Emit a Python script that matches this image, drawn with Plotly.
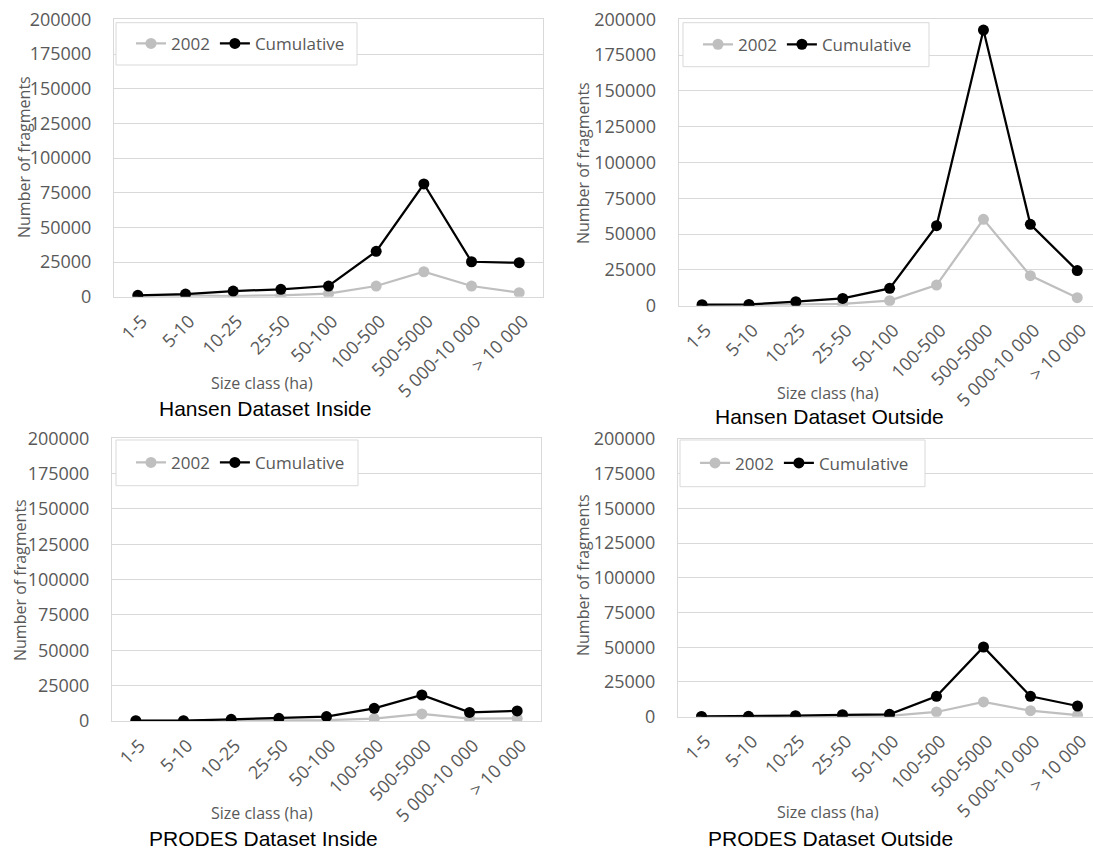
import plotly.graph_objects as go

W, H = 1093, 850

categories = ["1-5", "5-10", "10-25", "25-50", "50-100", "100-500",
              "500-5000", "5 000-10 000", "> 10 000"]

hansen_inside_2002 = [500, 1000, 500, 1000, 2200, 7700, 18000, 7700, 2900]
hansen_inside_cum = [1000, 1900, 4100, 5300, 7700, 32700, 81300, 25200, 24500]

hansen_outside_2002 = [200, 500, 700, 1200, 3500, 14400, 60300, 21000, 5600]
hansen_outside_cum = [700, 900, 2800, 5100, 12100, 55900, 192500, 56800, 24500]

prodes_inside_2002 = [100, 150, 300, 400, 600, 1700, 5000, 1700, 1900]
prodes_inside_cum = [200, 200, 1200, 1900, 3100, 9000, 18400, 6100, 7100]

prodes_outside_2002 = [100, 150, 300, 400, 600, 3400, 10600, 4300, 1200]
prodes_outside_cum = [200, 300, 700, 1400, 1700, 14700, 50200, 14700, 7700]

panel_titles = ["Hansen Dataset Inside", "Hansen Dataset Outside",
                "PRODES Dataset Inside", "PRODES Dataset Outside"]
series_names = ["2002", "Cumulative"]
y_title = "Number of fragments"
x_title = "Size class (ha)"

GRID = "#d9d9d9"
TXT = "#595959"
GRAY = "#bfbfbf"
FONT = "Open Sans"

# panel geometry in pixels: left, right, top, bottom, category spacing
panels = [
    dict(l=114, r=543, t=19.4, b=296.7, sp=47.67, data=(hansen_inside_2002, hansen_inside_cum),
         xt=(262, 383), tt=(265, 408), yt=(24, 157), leg=(116, 357, 22.7, 65)),
    dict(l=678.6, r=1093, t=19.3, b=305.7, sp=46.9, data=(hansen_outside_2002, hansen_outside_cum),
         xt=(828, 393), tt=(829, 416), yt=(583, 163), leg=(683, 929, 22.7, 66.7)),
    dict(l=112, r=541, t=438.3, b=721, sp=47.67, data=(prodes_inside_2002, prodes_inside_cum),
         xt=(262, 813), tt=(263, 838), yt=(20, 580), leg=(116, 358, 440, 485.7)),
    dict(l=678, r=1093, t=439, b=716.7, sp=47.0, data=(prodes_outside_2002, prodes_outside_cum),
         xt=(828, 812), tt=(830, 838), yt=(583, 575), leg=(680, 925, 440, 486.7)),
]

fig = go.Figure()
annotations = []
shapes = []
layout = {}

for i, p in enumerate(panels):
    k = "" if i == 0 else str(i + 1)
    xa, ya = "x" + k, "y" + k
    lg = "legend" + k
    d2002, dcum = p["data"]
    fig.add_trace(go.Scatter(
        x=categories, y=d2002, name=series_names[0], xaxis=xa, yaxis=ya,
        mode="lines+markers", line=dict(color=GRAY, width=2.25),
        marker=dict(color=GRAY, size=11), legend=lg))
    fig.add_trace(go.Scatter(
        x=categories, y=dcum, name=series_names[1], xaxis=xa, yaxis=ya,
        mode="lines+markers", line=dict(color="black", width=2.25),
        marker=dict(color="black", size=11), legend=lg))

    span = (p["r"] - p["l"]) / p["sp"]
    layout["xaxis" + k] = dict(
        domain=[p["l"] / W, p["r"] / W], anchor=ya, type="category",
        categoryorder="array", categoryarray=categories,
        range=[-0.5, -0.5 + span], showgrid=False, zeroline=False,
        showline=True, mirror=True, linecolor=GRID, linewidth=1,
        tickangle=-45, tickfont=dict(family=FONT, size=18, color=TXT),
        ticks="", ticklabelshift=4, ticklabelstandoff=6, fixedrange=True,
        automargin=False)
    layout["yaxis" + k] = dict(
        domain=[1 - p["b"] / H, 1 - p["t"] / H], anchor=xa,
        range=[0, 200000], dtick=25000, tick0=0, tickformat="d",
        showgrid=True, gridcolor=GRID, gridwidth=1, zeroline=False,
        showline=True, mirror=True, linecolor=GRID, linewidth=1,
        tickfont=dict(family=FONT, size=18, color=TXT), ticks="",
        ticklabelstandoff=18, fixedrange=True, automargin=False)

    L, R, T, B = p["leg"]
    shapes.append(dict(type="rect", xref="paper", yref="paper",
                       x0=L / W, x1=R / W, y0=1 - B / H, y1=1 - T / H,
                       line=dict(color=GRID, width=1), fillcolor="white", layer="above"))
    layout[lg] = dict(orientation="h", x=(L + 15) / W, y=1 - ((T + B) / 2) / H,
                      xanchor="left", yanchor="middle", bgcolor="rgba(0,0,0,0)",
                      borderwidth=0, font=dict(family=FONT, size=17, color=TXT),
                      itemwidth=30, tracegroupgap=0)

    annotations.append(dict(text=x_title, x=p["xt"][0] / W, y=1 - p["xt"][1] / H,
                            xref="paper", yref="paper", showarrow=False,
                            xanchor="center", yanchor="middle",
                            font=dict(family=FONT, size=16, color=TXT)))
    annotations.append(dict(text=panel_titles[i], x=p["tt"][0] / W, y=1 - p["tt"][1] / H,
                            xref="paper", yref="paper", showarrow=False,
                            xanchor="center", yanchor="middle",
                            font=dict(family="Liberation Sans, Arial", size=21, color="black")))
    annotations.append(dict(text=y_title, x=p["yt"][0] / W, y=1 - p["yt"][1] / H,
                            xref="paper", yref="paper", showarrow=False, textangle=-90,
                            xanchor="center", yanchor="middle",
                            font=dict(family=FONT, size=16, color=TXT)))

fig.update_layout(
    width=W, height=H, margin=dict(l=0, r=0, t=0, b=0, autoexpand=False),
    paper_bgcolor="white", plot_bgcolor="white", autosize=False,
    annotations=annotations, shapes=shapes, **layout)

fig.write_html("out.html", config={"displayModeBar": False, "responsive": False},
               post_script="document.body.style.margin='0';")
